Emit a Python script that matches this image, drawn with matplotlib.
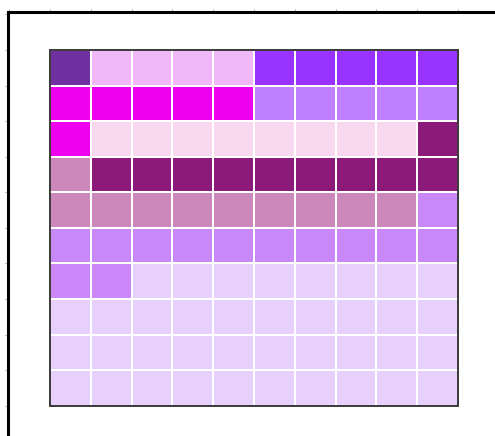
import numpy as np
import matplotlib
matplotlib.use("Agg")
import matplotlib.pyplot as plt
from matplotlib.colors import ListedColormap
from matplotlib.patches import Rectangle

# category colours
categories = ["A", "B", "C", "D", "E", "F", "G", "H", "I", "J", "K"]
colors = ["#7030A0", "#F0B8F8", "#9933FF", "#EE00EE", "#BF80FF",
          "#F8D8EE", "#8B1A78", "#CC88BB", "#C888F8", "#E8D0FC", "#CC88F8"]

# grid of category indices (rows top to bottom)
row0 = [0, 1, 1, 1, 1, 2, 2, 2, 2, 2]
row1 = [3, 3, 3, 3, 3, 4, 4, 4, 4, 4]
row2 = [3, 5, 5, 5, 5, 5, 5, 5, 5, 6]
row3 = [7, 6, 6, 6, 6, 6, 6, 6, 6, 6]
row4 = [7, 7, 7, 7, 7, 7, 7, 7, 7, 8]
row5 = [8, 8, 8, 8, 8, 8, 8, 8, 8, 8]
row6 = [10, 10, 9, 9, 9, 9, 9, 9, 9, 9]
row7 = [9, 9, 9, 9, 9, 9, 9, 9, 9, 9]
row8 = [9, 9, 9, 9, 9, 9, 9, 9, 9, 9]
row9 = [9, 9, 9, 9, 9, 9, 9, 9, 9, 9]
grid = np.array([row0, row1, row2, row3, row4, row5, row6, row7, row8, row9])

W, H = 495, 436
fig = plt.figure(figsize=(W / 100, H / 100), dpi=100)
ax = fig.add_axes([8 / W, (H - 440) / H, (500 - 8) / W, (440 - 11.5) / H])

cmap = ListedColormap(colors)
nr, nc = grid.shape
ax.pcolormesh(np.arange(nc + 1), np.arange(nr + 1), grid, cmap=cmap,
              vmin=-0.5, vmax=len(colors) - 0.5,
              edgecolors="white", linewidth=1.4)
ax.add_patch(Rectangle((0, 0), nc, nr, fill=False, edgecolor="#2a2a2a",
                       linewidth=1.3, zorder=5))

ax.set_xlim(-1.03, 11.03)
ax.set_ylim(10.96, -1.08)

ax.xaxis.tick_top()
ax.set_xticks(np.arange(-1, 11))
ax.set_yticks(np.arange(-1, 11))
ax.set_xticklabels([])
ax.set_yticklabels([])
ax.tick_params(direction="out", length=2.2, width=0.7, color="#aaaaaa")
for s in ["right", "bottom"]:
    ax.spines[s].set_visible(False)
for s in ["top", "left"]:
    ax.spines[s].set_linewidth(2.2)
    ax.spines[s].set_color("black")

fig.savefig("out.png", dpi=100)
